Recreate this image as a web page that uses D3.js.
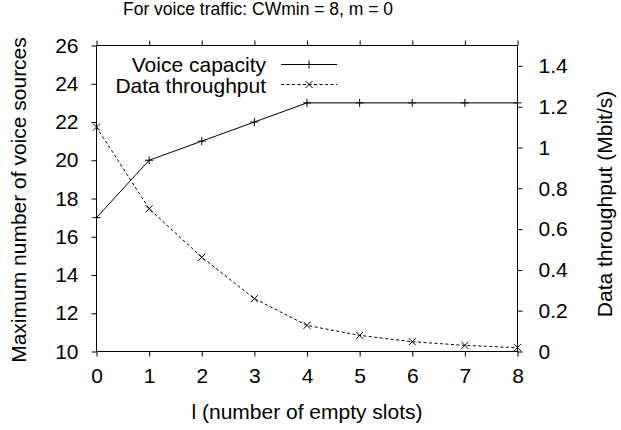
<!DOCTYPE html>
<html><head><meta charset="utf-8">
<script src="https://cdn.jsdelivr.net/npm/d3@7"></script>
<style>
html,body{margin:0;padding:0;background:#fff;}
text{font-family:"Liberation Sans",Arial,Helvetica,sans-serif;fill:#000;}
</style></head>
<body>
<svg id="c" width="621" height="430"></svg>
<script>
const emptySlots = [0, 1, 2, 3, 4, 5, 6, 7, 8];
const voiceCapacity = [17, 20, 21, 22, 23, 23, 23, 23, 23];
const dataThroughput = [1.10, 0.70, 0.462, 0.259, 0.128, 0.079, 0.048, 0.030, 0.019];
const xTicks = [0, 1, 2, 3, 4, 5, 6, 7, 8];
const yTicks = [10, 12, 14, 16, 18, 20, 22, 24, 26];
const y2Ticks = [0, 0.2, 0.4, 0.6, 0.8, 1, 1.2, 1.4];
const titleText = "For voice traffic: CWmin = 8, m = 0";
const xLabel = "l (number of empty slots)";
const yLabel = "Maximum number of voice sources";
const y2Label = "Data throughput (Mbit/s)";
const seriesNames = ["Voice capacity", "Data throughput"];

const svg = d3.select("#c");
const L = 96.5, R = 517.5, T = 45.5, B = 351.5;
const x = d3.scaleLinear().domain([0, 8]).range([L, R]);
const y = d3.scaleLinear().domain([10, 26]).range([B, T]);
const y2 = d3.scaleLinear().domain([0, 1.5]).range([B, T]);
const FS = 21;
const tk = 5;

// axes
const fmt = d => String(d);
const gB = svg.append("g").attr("transform", `translate(0,${B})`)
  .call(d3.axisBottom(x).tickValues(xTicks).tickSize(tk).tickSizeOuter(0).tickPadding(12).tickFormat(fmt));
const gT = svg.append("g").attr("transform", `translate(0,${T})`)
  .call(d3.axisTop(x).tickValues(xTicks).tickSize(tk).tickSizeOuter(0).tickFormat(""));
const gL = svg.append("g").attr("transform", `translate(${L},0)`)
  .call(d3.axisLeft(y).tickValues(yTicks).tickSize(tk).tickSizeOuter(0).tickPadding(13).tickFormat(fmt));
const gR = svg.append("g").attr("transform", `translate(${R},0)`)
  .call(d3.axisRight(y2).tickValues(y2Ticks).tickSize(tk).tickSizeOuter(0).tickPadding(16).tickFormat(fmt));
[gB, gT, gL, gR].forEach(g => {
  g.selectAll("path.domain").remove();
  g.selectAll("line").attr("stroke", "#000").attr("stroke-width", 1);
  g.selectAll("text").attr("font-size", FS).attr("font-family", "Liberation Sans, Arial, sans-serif").attr("fill", "#000");
});
// border
svg.append("rect").attr("x", L).attr("y", T).attr("width", R - L).attr("height", B - T)
  .attr("fill", "none").attr("stroke", "#000").attr("stroke-width", 1);

// series
const pts = emptySlots.map((s, i) => ({s, v: voiceCapacity[i], d: dataThroughput[i]}));
svg.append("path").datum(pts).attr("fill", "none").attr("stroke", "#000").attr("stroke-width", 1)
  .attr("d", d3.line().x(p => x(p.s)).y(p => y(p.v)));
svg.append("path").datum(pts).attr("fill", "none").attr("stroke", "#000").attr("stroke-width", 1)
  .attr("stroke-dasharray", "3,2.5")
  .attr("d", d3.line().x(p => x(p.s)).y(p => y2(p.d)));

const plus = (g, cx, cy, r) => g.append("path").attr("d", `M${cx - r},${cy}H${cx + r}M${cx},${cy - r}V${cy + r}`)
  .attr("stroke", "#000").attr("stroke-width", 1).attr("fill", "none");
const cross = (g, cx, cy, r) => g.append("path").attr("d", `M${cx - r},${cy - r}L${cx + r},${cy + r}M${cx - r},${cy + r}L${cx + r},${cy - r}`)
  .attr("stroke", "#000").attr("stroke-width", 1).attr("fill", "none");
const mk = svg.append("g");
pts.forEach(p => { plus(mk, x(p.s), y(p.v), 4); cross(mk, x(p.s), y2(p.d), 3.5); });

// legend
const legRows = [{name: seriesNames[0], dash: null, m: plus, ty: 71.5, ly: 64.5},
                 {name: seriesNames[1], dash: "3,2.5", m: cross, ty: 93.3, ly: 84.5}];
legRows.forEach(r => {
  svg.append("text").attr("x", 266).attr("y", r.ty).attr("text-anchor", "end").attr("font-size", FS).text(r.name);
  const ln = svg.append("line").attr("x1", 281).attr("x2", 337).attr("y1", r.ly).attr("y2", r.ly)
    .attr("stroke", "#000").attr("stroke-width", 1);
  if (r.dash) ln.attr("stroke-dasharray", r.dash);
  r.m(svg, 309, r.ly, r.m === plus ? 4 : 3.5);
});

// titles
svg.append("text").attr("x", 258).attr("y", 14.5).attr("text-anchor", "middle").attr("font-size", 17.5).text(titleText);
svg.append("text").attr("x", 307).attr("y", 419).attr("text-anchor", "middle").attr("font-size", FS).text(xLabel);
svg.append("text").attr("transform", "translate(26,200) rotate(-90)").attr("text-anchor", "middle").attr("font-size", FS).text(yLabel);
svg.append("text").attr("transform", "translate(612,204) rotate(-90)").attr("text-anchor", "middle").attr("font-size", FS).text(y2Label);
</script>
</body></html>
